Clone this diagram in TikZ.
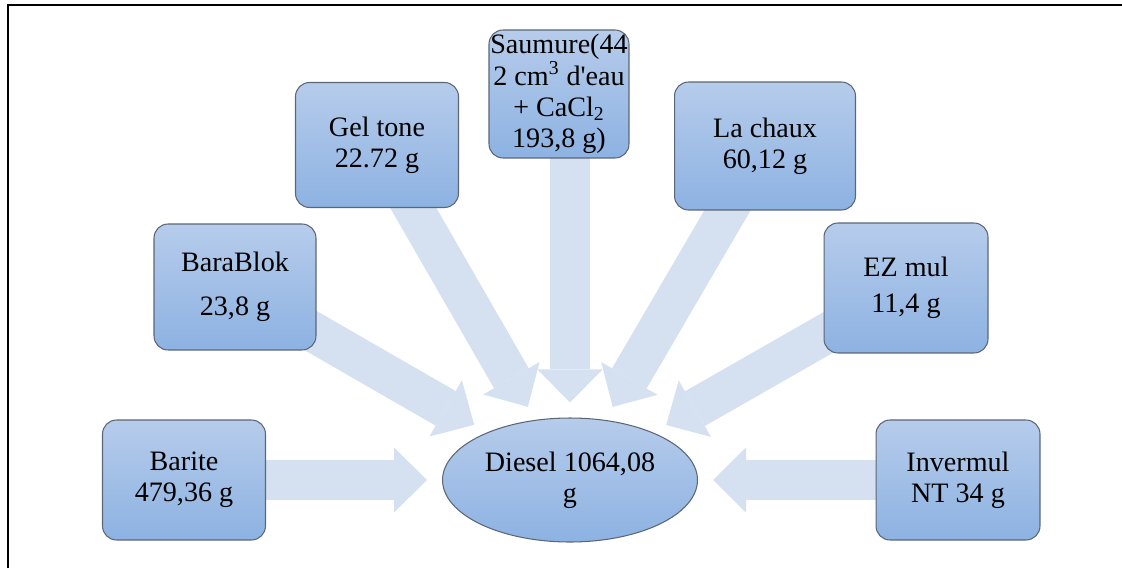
\documentclass[tikz,border=0pt]{standalone}
\usepackage{fontspec}
\setmainfont{Liberation Serif}[Ligatures=TeXOff]
\usetikzlibrary{arrows.meta,shapes.geometric,backgrounds}
\definecolor{boxtop}{RGB}{182,204,235}
\definecolor{boxbot}{RGB}{141,178,226}
\definecolor{boxline}{RGB}{92,102,118}
\definecolor{feedblue}{RGB}{213,225,241}
\begin{document}
\begin{tikzpicture}[x=0.02cm, y=-0.02cm,
    font=\fontsize{16pt}{17.8pt}\selectfont,
    part/.style={draw=boxline, line width=0.6pt, rounded corners=0.28cm,
      top color=boxtop, bottom color=boxbot, align=center, inner sep=0.5pt},
    feed/.style={draw=feedblue, line width=0.8cm, shorten >=0.3cm,
      -{Triangle[width=1.3cm, length=0.66cm, line width=0pt]}}]
  \useasboundingbox (0,0) rectangle (1122,568);
  \draw[line width=1.2pt] (8,568) -- (8,5) -- (1122,5);
  % ingredients
  \node[part, minimum width=3.26cm, minimum height=2.4cm] (barite) at (184,480) {Barite\\479,36 g};
  \node[part, minimum width=3.24cm, minimum height=2.52cm] (barablok) at (235,287) {BaraBlok\\[7pt]23,8 g};
  \node[part, minimum width=3.26cm, minimum height=2.5cm] (geltone) at (377,145) {Gel tone\\22.72 g};
  \node[part, minimum width=2.8cm, minimum height=2.56cm] (saumure) at (559,94)
    {Saumure(44\\2 cm\textsuperscript{3} d'eau\\+ CaCl\textsubscript{2}\\193,8 g)};
  \node[part, minimum width=3.62cm, minimum height=2.56cm] (lachaux) at (765,146) {La chaux\\60,12 g};
  \node[part, minimum width=3.28cm, minimum height=2.6cm] (ezmul) at (906,288) {EZ mul\\[3pt]11,4 g};
  \node[part, minimum width=3.28cm, minimum height=2.4cm] (invermul) at (958,480) {Invermul\\NT 34 g};
  % mixture
  \node[part, ellipse, minimum width=5.1cm, minimum height=2.48cm, inner sep=0pt] (diesel) at (570,480) {Diesel 1064,08\\g};
  \begin{scope}[on background layer]
    \foreach \n in {barite,barablok,geltone,lachaux,ezmul,invermul}
      \draw[feed] (\n.center) -- (diesel);
    \draw[feed] (saumure.center -| diesel.center) -- (diesel);
  \end{scope}
\end{tikzpicture}
\end{document}
